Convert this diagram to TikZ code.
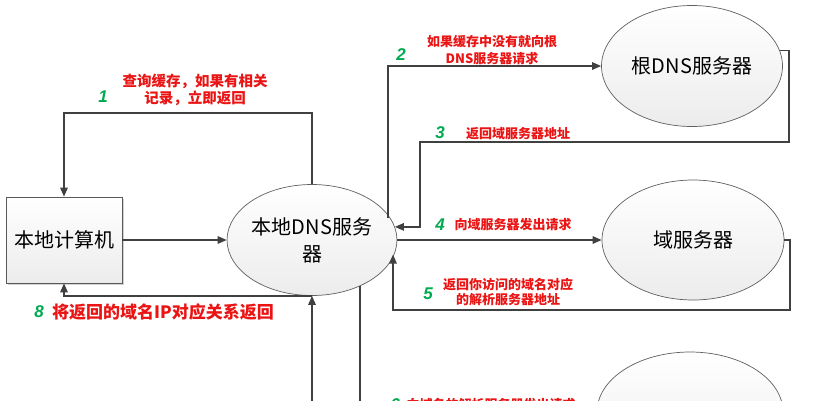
\documentclass[tikz,border=0pt]{standalone}
\usepackage{fontspec}
\setmainfont{Noto Sans CJK SC}
\newfontfamily\numfont{Liberation Sans}
\usetikzlibrary{arrows.meta,shapes.geometric,shadows}
\definecolor{lbred}{RGB}{235,20,20}
\definecolor{numgreen}{RGB}{0,170,80}
\definecolor{linegray}{RGB}{64,64,64}
\begin{document}
\begin{tikzpicture}[x=1pt,y=-1pt,
  arr/.style={draw=linegray, line width=1.3pt, -{Triangle[length=9pt,width=7.5pt]}},
  ln/.style={draw=linegray, line width=1.3pt},
  srv/.style={ellipse, draw=gray!75!black, line width=0.7pt, top color=white, bottom color=gray!15, inner sep=0pt, align=center, font=\fontsize{20}{27}\selectfont},
  pcbox/.style={rectangle, draw=gray!70!black, line width=0.7pt, top color=white, bottom color=gray!15, inner sep=0pt, drop shadow={opacity=0.35, shadow xshift=1.5pt, shadow yshift=-1.5pt}, font=\fontsize{20}{24}\selectfont},
  num/.style={font=\numfont\bfseries\itshape\fontsize{17}{20}\selectfont, text=numgreen, inner sep=0pt},
  lbl/.style={text=lbred, align=center, inner sep=0pt}
]
\useasboundingbox (0,0) rectangle (817,400);
\clip (0,0) rectangle (817,400);
\fill[white] (0,0) rectangle (817,400);

% nodes
\node[pcbox, minimum width=116pt, minimum height=86pt] (pc) at (64,240) {本地计算机};
\node[srv, minimum width=165pt, minimum height=111pt] (ldns) at (312,240) {本地DNS服务\\器};
\node[srv, minimum width=181pt, minimum height=121pt] (root) at (692,66) {根DNS服务器};
\node[srv, minimum width=182pt, minimum height=120pt] (dom) at (693,240) {域服务器};
\node[srv, minimum width=186pt, minimum height=120pt] (res) at (690,412) {};

% bend points
\coordinate (c1) at (64,113);
\coordinate (c2) at (388,0);
\coordinate (c3a) at (789,142);
\coordinate (c3b) at (420,0);
\coordinate (c5a) at (790,310);
\coordinate (c5b) at (393,0);
\coordinate (b6) at (360,440);
\coordinate (b7) at (312,440);

% connectors
\draw[arr] (ldns.north) |- (c1) -- (pc.north);
\draw[arr] (pc.east) -- (ldns.west);
\draw[arr] (ldns.south) -| (pc.south);
\draw[arr] (b7) -- (ldns.south);
\draw[ln] (b6 |- ldns.-43) -- (b6);
\draw[arr] (c2 |- ldns.16) |- (root.west);
\draw[arr] (root.10) -| (c3a) -| (c3b |- ldns.9) -- (ldns.9);
\draw[arr] (ldns.east) -- (dom.west);
\draw[arr] (dom.east) -| (c5a) -| (c5b |- ldns.-10);

% labels
\node[num] (n1) at (103,97) {1};
\node[lbl, font=\bfseries\fontsize{14.5}{17}\selectfont] (l1) at (195,90) {查询缓存，如果有相关\\记录，立即返回};
\node[num] (n2) at (401,55) {2};
\node[lbl, font=\bfseries\fontsize{13}{17}\selectfont] (l2) at (492,50.5) {如果缓存中没有就向根\\DNS服务器请求};
\node[num] (n3) at (440,133) {3};
\node[lbl, font=\bfseries\fontsize{13}{15}\selectfont] (l3) at (518,134) {返回域服务器地址};
\node[num] (n4) at (440,225) {4};
\node[lbl, font=\bfseries\fontsize{13}{15}\selectfont] (l4) at (513,225) {向域服务器发出请求};
\node[num] (n5) at (428,294) {5};
\node[lbl, font=\bfseries\fontsize{13}{15}\selectfont] (l5) at (508,291.5) {返回你访问的域名对应\\的解析服务器地址};
\node[num] (n8) at (39,312) {8};
\node[lbl, font=\bfseries\fontsize{17}{20}\selectfont] (l8) at (163,312) {将返回的域名IP对应关系返回};
\node[num] (n6) at (395,405) {6};
\node[lbl, font=\bfseries\fontsize{13}{15}\selectfont] (l6) at (491,405) {向域名的解析服务器发出请求};
\end{tikzpicture}
\end{document}
